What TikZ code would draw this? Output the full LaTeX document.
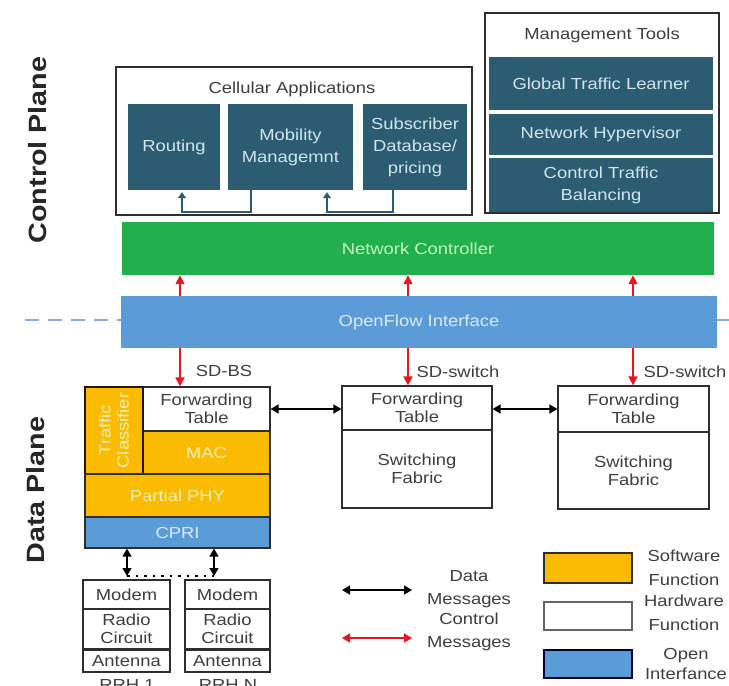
\documentclass[tikz,border=0pt]{standalone}
\usepackage{fontspec}
\setmainfont{Liberation Sans}[FakeStretch=1.15]
\usetikzlibrary{arrows.meta,calc}

\definecolor{appteal}{HTML}{2C5C72}
\definecolor{apptext}{HTML}{D2E4EC}
\definecolor{ncgreen}{HTML}{21B04B}
\definecolor{nctext}{HTML}{C4F2C8}
\definecolor{ofblue}{HTML}{5B9BD8}
\definecolor{oftext}{HTML}{DCEBFA}
\definecolor{swgold}{HTML}{FABB00}
\definecolor{swtext}{HTML}{FFF0B8}
\definecolor{ctrlred}{HTML}{E8161E}
\definecolor{edge}{HTML}{2E2E2E}
\definecolor{ink}{HTML}{3E3E3E}
\definecolor{dashblue}{HTML}{8FAACB}

\newcommand\fsn{\fontsize{16}{18}\selectfont}
\newcommand\fst{\fontsize{16}{22}\selectfont}

% \blkat{style}{name}{x1}{y1}{x2}{y2}{text}: a box spanning two corners
\newcommand\blkat[7]{%
  \node[#1, minimum width=#5pt-#3pt, minimum height=#6pt-#4pt]
    (#2) at ({(#3+#5)/2},{(#4+#6)/2}) {#7};}

\tikzset{
  blk/.style={inner sep=0pt, align=center, font=\fsn},
  tealbox/.style={blk, font=\fst, fill=appteal, text=apptext},
  hwbox/.style={blk, draw=edge, line width=1.2pt, fill=white, text=ink},
  swbox/.style={blk, draw=edge, line width=1.2pt, fill=swgold, text=swtext},
  oibox/.style={blk, draw=edge, line width=1.2pt, fill=ofblue, text=oftext},
  frame/.style={inner sep=0pt, draw=edge, line width=1.6pt},
  plain/.style={font=\fsn, text=ink, align=center, inner sep=0pt},
  plane/.style={font=\fontsize{25}{28}\selectfont\bfseries, text=black!85, rotate=90, inner sep=0pt},
  ctrl/.style={draw=ctrlred, line width=1.6pt, -{Triangle[width=9pt,length=9pt]}},
  ctrlboth/.style={draw=ctrlred, line width=1.6pt, {Triangle[width=9pt,length=8pt]}-{Triangle[width=9pt,length=8pt]}},
  data/.style={draw=black, line width=1.6pt, {Triangle[width=9pt,length=8pt]}-{Triangle[width=9pt,length=8pt]}},
  apparrow/.style={draw=appteal, line width=2pt, -{Triangle[width=8pt,length=6pt]}},
}

\begin{document}
\begin{tikzpicture}[x=1pt,y=-1pt]
\useasboundingbox (0,0) rectangle (729,686);

% plane labels
\node[plane] (cplane) at (38,150) {Control Plane};
\node[plane] (dplane) at (36,490) {Data Plane};

% cellular applications
\blkat{frame}{cell}{116}{67}{472}{215}{}
\node[plain] (celltitle) at (292,89) {Cellular Applications};
\blkat{tealbox}{rout}{128}{104}{220}{190}{Routing}
\blkat{tealbox}{mob}{228}{104}{353}{190}{Mobility\\Managemnt}
\blkat{tealbox}{subs}{363}{104}{467}{190}{Subscriber\\Database/\\pricing}
\coordinate (xm) at (251,0);
\coordinate (xr) at (182,0);
\coordinate (xs) at (393,0);
\coordinate (xq) at (327,0);
\draw[apparrow] (mob.south -| xm) -- ++(0,22) -| ($(rout.south -| xr)+(0,2)$);
\draw[apparrow] (subs.south -| xs) -- ++(0,22) -| ($(mob.south -| xq)+(0,2)$);

% management tools
\blkat{frame}{mgmt}{485}{13}{719}{213}{}
\node[plain] (mgmttitle) at (602,35) {Management Tools};
\blkat{tealbox}{gtl}{489}{57}{713}{110}{Global Traffic Learner}
\blkat{tealbox}{nh}{489}{114}{713}{155}{Network Hypervisor}
\blkat{tealbox}{ctb}{489}{158}{713}{212}{Control Traffic\\Balancing}

% controller and southbound interface
\draw[dashblue, line width=1.2pt, dash pattern=on 14pt off 9pt] (25,320) -- (121,320);
\draw[dashblue, line width=1.2pt, dash pattern=on 14pt off 9pt] (717,320) -- (729,320);
\blkat{blk, fill=ncgreen, text=nctext}{nc}{122}{222}{714}{275}{Network Controller}
\blkat{blk, fill=ofblue, text=oftext}{of}{121}{296}{717}{348}{OpenFlow Interface}

% software-defined base station
\blkat{hwbox}{ft1}{143}{387}{270}{431}{Forwarding\\Table}
\blkat{swbox}{mac}{143}{431}{270}{474}{MAC}
\blkat{swbox, draw=black!75!orange!60!black, line width=1.8pt}{tc}{85}{387}{143}{474}{}
\node[font=\fsn, text=swtext, rotate=90, align=center, inner sep=0pt] (tclabel) at (tc.center) {Traffic\\Classifier};
\blkat{swbox}{phy}{85}{474}{270}{517}{Partial PHY}
\blkat{oibox}{cpri}{85}{517}{270}{548}{CPRI}

% software-defined switches
\blkat{hwbox}{ft2}{342}{386}{492}{430}{Forwarding\\Table}
\blkat{hwbox}{sf2}{342}{430}{492}{508}{Switching\\Fabric}
\blkat{hwbox}{ft3}{558}{386}{709}{432}{Forwarding\\Table}
\blkat{hwbox}{sf3}{558}{432}{709}{509}{Switching\\Fabric}

\node[plain] (sdbs) at (224,371) {SD-BS};
\node[plain] (sdsw1) at (458,372) {SD-switch};
\node[plain] (sdsw2) at (685,372) {SD-switch};

% control messages
\coordinate (c1) at (180,0);
\coordinate (c2) at (408,0);
\coordinate (c3) at (633,0);
\foreach \c in {c1,c2,c3}{
  \draw[ctrl] (of.north -| \c) -- (nc.south -| \c);
}
\draw[ctrl] (of.south -| c1) -- (ft1.north -| c1);
\draw[ctrl] (of.south -| c2) -- (ft2.north -| c2);
\draw[ctrl] (of.south -| c3) -- (ft3.north -| c3);

% data messages between forwarding tables
\draw[data] (ft1.east) -- (ft2.west |- ft1.east);
\draw[data] (ft2.east |- ft1.east) -- (ft3.west |- ft1.east);

% remote radio heads
\blkat{hwbox}{m1}{83}{580}{170}{609}{Modem}
\blkat{hwbox}{r1}{83}{609}{170}{649}{Radio\\Circuit}
\blkat{hwbox}{a1}{83}{650}{170}{672}{Antenna}
\blkat{hwbox}{mn}{185}{580}{270}{609}{Modem}
\blkat{hwbox}{rn}{185}{609}{270}{649}{Radio\\Circuit}
\blkat{hwbox}{an}{185}{650}{270}{672}{Antenna}
\node[plain] (rrh1) at (127,685) {RRH 1};
\node[plain] (rrhn) at (228,685) {RRH N};

\coordinate (f1) at (127,576);
\coordinate (fn) at (214,576);
\draw[data, line width=1.4pt] (cpri.south -| f1) -- (f1);
\draw[data, line width=1.4pt] (cpri.south -| fn) -- (fn);
\draw[black, line width=2.2pt, dash pattern=on 2.5pt off 6pt] (f1) -- (fn);

% legend
\coordinate (dl) at (342,590);
\coordinate (dr) at (412,590);
\coordinate (cl) at (342,638);
\coordinate (cr) at (412,638);
\draw[data] (dl) -- (dr);
\draw[ctrlboth] (cl) -- (cr);
\node[plain, font=\fontsize{16}{23}\selectfont] (ldata) at (469,589) {Data\\Messages};
\node[plain, font=\fontsize{16}{23}\selectfont] (lctrl) at (469,632) {Control\\Messages};

\blkat{swbox}{lsw}{544}{553}{632}{583}{}
\blkat{hwbox, draw=black!60}{lhw}{544}{602}{632}{630}{}
\blkat{oibox, draw=black!80!blue}{loi}{544}{650}{632}{678}{}
\node[plain, font=\fontsize{16}{24}\selectfont] (lswt) at (684,568) {Software\\Function};
\node[plain, font=\fontsize{16}{24}\selectfont] (lhwt) at (684,613) {Hardware\\Function};
\node[plain, font=\fontsize{16}{20}\selectfont] (loit) at (686,664) {Open\\Interfance};
\end{tikzpicture}
\end{document}
